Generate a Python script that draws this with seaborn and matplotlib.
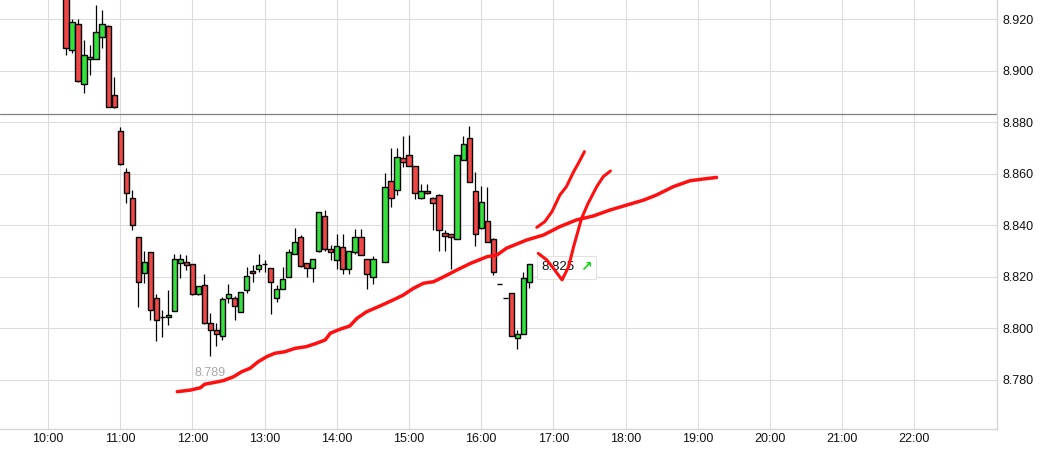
import numpy as np
import pandas as pd
import matplotlib
matplotlib.use("Agg")
import matplotlib.pyplot as plt
from matplotlib.offsetbox import TextArea, HPacker, AnnotationBbox
import seaborn as sns

# ---------------- data ----------------
# 5-minute candles from 10:15 to 16:40 (there is no bar at 14:35)
times = pd.date_range("2000-01-01 10:15", "2000-01-01 16:40", freq="5min")
times = times.drop(pd.Timestamp("2000-01-01 14:35"))
hours = np.array(times.hour + times.minute / 60)

opens = [8.935, 8.908, 8.918, 8.895, 8.9045, 8.9045, 8.913, 8.9174, 8.8906,
         8.8765, 8.8606, 8.8505, 8.8353, 8.8214, 8.8295, 8.8117, 8.8043, 8.8043,
         8.8066, 8.8252, 8.8256, 8.8249, 8.8132, 8.8167, 8.8021, 8.7992, 8.7969,
         8.8117, 8.8119, 8.8064, 8.8149, 8.8223, 8.8229, 8.825, 8.8235, 8.8119,
         8.8151, 8.8198, 8.8287, 8.8353, 8.8253, 8.8233, 8.8301, 8.8436, 8.8307,
         8.8265, 8.8316, 8.8229, 8.8295, 8.8353, 8.8268, 8.8199, 8.8256, 8.8571,
         8.8537, 8.8661, 8.8673, 8.863, 8.8505, 8.8533, 8.8505, 8.8517, 8.8369,
         8.8365, 8.8347, 8.8654, 8.8738, 8.8533, 8.8388, 8.8416, 8.8347, 8.8172,
         8.8117, 8.8136, 8.7961, 8.7977, 8.8181]
highs = [8.940, 8.920, 8.920, 8.912, 8.910, 8.9256, 8.9236, 8.9177, 8.8976,
         8.8783, 8.8624, 8.8537, 8.8353, 8.830, 8.8295, 8.8133, 8.8071, 8.8147,
         8.8287, 8.8287, 8.8285, 8.8249, 8.8165, 8.8211, 8.8058, 8.8021, 8.8123,
         8.8172, 8.8125, 8.8141, 8.8239, 8.8246, 8.8289, 8.8265, 8.8235, 8.8168,
         8.8239, 8.8309, 8.839, 8.8362, 8.8253, 8.8268, 8.8451, 8.846, 8.8322,
         8.8365, 8.8365, 8.830, 8.8386, 8.8386, 8.8268, 8.8281, 8.8602, 8.8699,
         8.8699, 8.8748, 8.8751, 8.863, 8.856, 8.856, 8.851, 8.852, 8.838,
         8.8365, 8.8672, 8.8748, 8.8786, 8.8606, 8.8553, 8.855, 8.835, 8.8172,
         8.8117, 8.8136, 8.7993, 8.8217, 8.825]
lows = [8.906, 8.907, 8.8955, 8.8915, 8.8985, 8.9045, 8.909, 8.886, 8.8857,
        8.8634, 8.8485, 8.8382, 8.8082, 8.8177, 8.8032, 8.7952, 8.7967, 8.8012,
        8.8066, 8.8197, 8.8226, 8.813, 8.813, 8.8017, 8.7894, 8.7931, 8.7955,
        8.810, 8.8032, 8.8064, 8.8136, 8.8181, 8.8217, 8.8217, 8.8054, 8.8101,
        8.8151, 8.8198, 8.8287, 8.824, 8.820, 8.8181, 8.8295, 8.830, 8.8266,
        8.823, 8.8211, 8.821, 8.829, 8.8285, 8.8151, 8.8171, 8.8256, 8.8472,
        8.8518, 8.8628, 8.863, 8.8502, 8.8502, 8.852, 8.8382, 8.830, 8.830,
        8.8229, 8.8347, 8.8654, 8.8568, 8.832, 8.8385, 8.8335, 8.8207, 8.8172,
        8.8117, 8.797, 8.7919, 8.7977, 8.8158]
closes = [8.909, 8.919, 8.896, 8.906, 8.9055, 8.915, 8.918, 8.886, 8.886,
          8.8637, 8.8524, 8.840, 8.8179, 8.8256, 8.807, 8.8031, 8.8043, 8.805,
          8.8268, 8.8268, 8.8245, 8.8133, 8.8163, 8.8021, 8.7992, 8.7977, 8.8113,
          8.8133, 8.8085, 8.8141, 8.8202, 8.8215, 8.8245, 8.825, 8.8179, 8.8151,
          8.8193, 8.8295, 8.8334, 8.8243, 8.8235, 8.8268, 8.8451, 8.8307, 8.8295,
          8.8321, 8.8229, 8.8299, 8.8353, 8.8286, 8.821, 8.8268, 8.855, 8.8505,
          8.8664, 8.8645, 8.863, 8.8524, 8.8533, 8.8524, 8.8485, 8.8381, 8.8358,
          8.8353, 8.8672, 8.8715, 8.8568, 8.8366, 8.8492, 8.8335, 8.822, 8.8172,
          8.8117, 8.797, 8.7977, 8.8194, 8.825]

# moving average (thick red curve)
ma_hours = [11.79, 11.97, 12.11, 12.17, 12.29, 12.43, 12.57, 12.68, 12.80, 12.91,
            13.03, 13.14, 13.28, 13.42, 13.58, 13.72, 13.84, 13.91, 14.04, 14.18,
            14.28, 14.41, 14.60, 14.78, 14.92, 15.06, 15.20, 15.34, 15.48, 15.66,
            15.85, 16.08, 16.22, 16.35, 16.63, 16.86, 17.09, 17.32, 17.55, 17.78,
            18.02, 18.25, 18.43, 18.66, 18.89, 19.08, 19.26]
ma_price = [8.7754, 8.7760, 8.7769, 8.7783, 8.7789, 8.7797, 8.7812, 8.7831, 8.7845,
            8.7870, 8.7890, 8.7903, 8.7909, 8.7922, 8.7929, 8.7942, 8.7955, 8.7981,
            8.7996, 8.8009, 8.8039, 8.8064, 8.8087, 8.8110, 8.8129, 8.8155, 8.8175,
            8.8181, 8.8200, 8.8226, 8.8252, 8.8278, 8.8285, 8.8311, 8.8343, 8.8362,
            8.8395, 8.8421, 8.8436, 8.8459, 8.8479, 8.8498, 8.8518, 8.8550, 8.8573,
            8.8580, 8.8586]

# hand-drawn forecast strokes
up_hours = [16.77, 16.88, 16.98, 17.09, 17.18, 17.28, 17.35, 17.43]
up_price = [8.8392, 8.8414, 8.8453, 8.8518, 8.8550, 8.8608, 8.8643, 8.8686]
v_hours = [16.79, 16.91, 17.00, 17.12, 17.21, 17.28, 17.39, 17.48, 17.60, 17.69, 17.79]
v_price = [8.8291, 8.8265, 8.8233, 8.8188, 8.8239, 8.8317, 8.8427, 8.8485, 8.8550,
           8.8589, 8.8611]

hline_price = 8.8831
y_ticks = [8.78, 8.80, 8.82, 8.84, 8.86, 8.88, 8.90, 8.92]
x_ticks = list(range(10, 23))
x_labels = [f"{h}:00" for h in x_ticks]

# ---------------- drawing ----------------
sns.set_style("white")
plt.rcParams["font.family"] = ["Liberation Sans", "DejaVu Sans"]

fig = plt.figure(figsize=(10.4, 4.69), dpi=100)
ax = fig.add_axes([0, 40 / 469, 997 / 1040, 429 / 469])

ax.set_xlim(9.3352, 23.144)
ax.set_ylim(8.7609, 8.9275)

ax.set_xticks(x_ticks)
ax.set_xticklabels(x_labels)
ax.set_yticks(y_ticks)
ax.yaxis.set_major_formatter(matplotlib.ticker.FormatStrFormatter("%.3f"))
ax.yaxis.tick_right()
ax.tick_params(axis="both", length=0, labelsize=9, colors="#111111")
ax.tick_params(axis="y", pad=4)
ax.tick_params(axis="x", pad=3)
ax.grid(True, color="#dcdcdc", linewidth=0.8)
ax.set_axisbelow(True)
for side in ["top", "left"]:
    ax.spines[side].set_visible(False)
for side in ["right", "bottom"]:
    ax.spines[side].set_color("#d6d6d6")
    ax.spines[side].set_linewidth(1.0)

ax.axhline(hline_price, color="#808080", linewidth=0.9, zorder=1)

# candles
o = np.array(opens)
c = np.array(closes)
body_w = 5.3 / 72.2
colors = np.where(c >= o, "#33e03c", "#f04646")
ax.vlines(hours, lows, highs, color="black", linewidth=0.9, zorder=2)
ax.bar(hours, np.abs(c - o), bottom=np.minimum(o, c), width=body_w,
       color=colors, edgecolor="black", linewidth=1.0, zorder=3)

# day low label
low_i = int(np.argmin(lows))
ax.annotate(f"{lows[low_i]:.3f}", (hours[low_i], lows[low_i]), xytext=(0, -12.5),
            textcoords="offset points", ha="center", va="center",
            fontsize=9, color="#a8a8a8", zorder=4)

# last price box with green arrow (one packed artist)
last_txt = TextArea(f"{closes[-1]:.3f}",
                    textprops=dict(fontsize=9.5, color="#111111"))
arrow_txt = TextArea("\u2197", textprops=dict(fontsize=10, color="#10d810",
                                               family=["DejaVu Sans"],
                                               fontweight="bold"))
pack = HPacker(children=[last_txt, arrow_txt], pad=0, sep=4, align="center")
box = AnnotationBbox(pack, (hours[-1], closes[-1]), xybox=(8.5, -2.5),
                     boxcoords="offset points", box_alignment=(0, 0.5),
                     frameon=True, pad=0.3,
                     bboxprops=dict(boxstyle="square", fc="white",
                                    ec="#e2e2e2", lw=0.8))
box.set_zorder(4)
ax.add_artist(box)

# lines
sns.lineplot(x=ma_hours, y=ma_price, ax=ax, color="#ff1010", linewidth=2.5,
             sort=False, estimator=None, zorder=5)
sns.lineplot(x=up_hours, y=up_price, ax=ax, color="#ff1010", linewidth=2.2,
             sort=False, estimator=None, zorder=5)
sns.lineplot(x=v_hours, y=v_price, ax=ax, color="#ff1010", linewidth=2.2,
             sort=False, estimator=None, zorder=5)

ax.set_xlabel("")
ax.set_ylabel("")

fig.savefig("out.png", dpi=100)
